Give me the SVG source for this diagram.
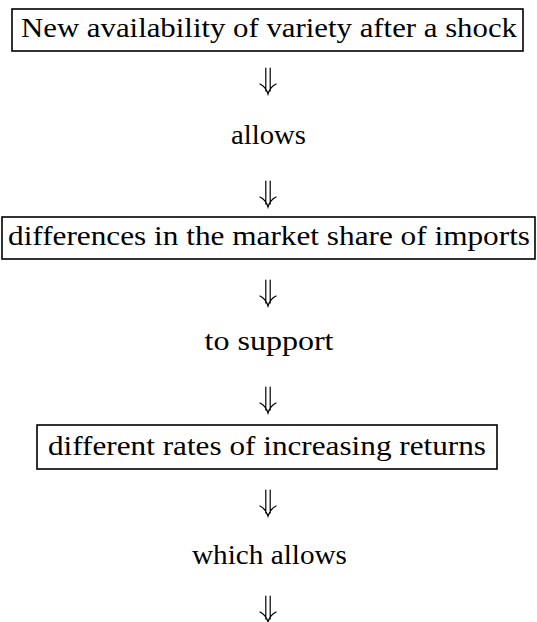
<svg xmlns="http://www.w3.org/2000/svg" width="537" height="622" viewBox="0 0 537 622">
<style>
  .box { fill: #ffffff; stroke: #000000; stroke-width: 1.6; }
  .t { font-family: "Liberation Serif", "DejaVu Serif", serif; font-size: 27px; fill: #000000; text-anchor: middle; }
  .arr { fill: none; stroke: #000000; stroke-width: 1.2; stroke-linecap: round; }
</style>
<defs>
  <g id="dblarrow">
    <path class="arr" d="M-2.2,0 V23 M2.2,0 V23 M-8,16 Q-2,19 0,26 Q2,19 8,16"/>
  </g>
</defs>
<rect width="537" height="622" fill="#ffffff"/>
<g id="n1">
  <rect class="box" x="12" y="9" width="511" height="42"/>
  <text class="t" x="269" y="37" textLength="496" lengthAdjust="spacingAndGlyphs">New availability of variety after a shock</text>
</g>
<g id="l1">
  <text class="t" x="268.5" y="144" textLength="75" lengthAdjust="spacingAndGlyphs">allows</text>
</g>
<g id="n2">
  <rect class="box" x="2" y="217" width="533" height="42"/>
  <text class="t" x="269" y="245" textLength="522" lengthAdjust="spacingAndGlyphs">differences in the market share of imports</text>
</g>
<g id="l2">
  <text class="t" x="269" y="350" textLength="129" lengthAdjust="spacingAndGlyphs">to support</text>
</g>
<g id="n3">
  <rect class="box" x="37" y="425" width="460" height="44"/>
  <text class="t" x="267" y="455" textLength="438" lengthAdjust="spacingAndGlyphs">different rates of increasing returns</text>
</g>
<g id="l3">
  <text class="t" x="269.5" y="564" textLength="155" lengthAdjust="spacingAndGlyphs">which allows</text>
</g>
<g id="connectors">
  <use href="#dblarrow" x="268" y="68"/>
  <use href="#dblarrow" x="268" y="181"/>
  <use href="#dblarrow" x="268" y="280"/>
  <use href="#dblarrow" x="268" y="387"/>
  <use href="#dblarrow" x="268" y="490"/>
  <use href="#dblarrow" x="268" y="596"/>
</g>
</svg>
